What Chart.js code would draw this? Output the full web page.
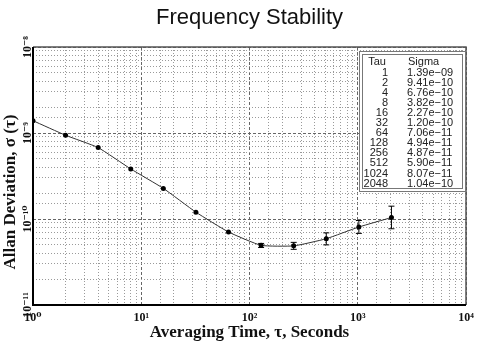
<!DOCTYPE html>
<html><head><meta charset="utf-8">
<script src="https://cdn.jsdelivr.net/npm/chart.js@4.4.1/dist/chart.umd.min.js"></script>
<style>html,body{margin:0;padding:0;background:#fff}#wrap{width:480px;height:345px;position:relative}</style>
</head><body><div id="wrap"><canvas id="c" width="480" height="345"></canvas></div>
<script>
const chartTitle = 'Frequency Stability';
const xTitle = 'Averaging Time, τ, Seconds';
const yTitle = 'Allan Deviation, σ (τ)';
const tau = [1, 2, 4, 8, 16, 32, 64, 128, 256, 512, 1024, 2048];
const sigma = [1.39e-9, 9.41e-10, 6.76e-10, 3.82e-10, 2.27e-10, 1.20e-10, 7.06e-11, 4.94e-11, 4.87e-11, 5.90e-11, 8.07e-11, 1.04e-10];
const errTau = [128, 256, 512, 1024, 2048];
const errLow = [4.66e-11, 4.44e-11, 5.0e-11, 6.8e-11, 7.7e-11];
const errHigh = [5.2e-11, 5.35e-11, 6.9e-11, 9.6e-11, 1.41e-10];
const xTickExp = [0, 1, 2, 3, 4];
const xTickLabels = ['10⁰', '10¹', '10²', '10³', '10⁴'];
const yTickExp = [-11, -10, -9, -8];
const yTickLabels = ['10⁻¹¹', '10⁻¹⁰', '10⁻⁹', '10⁻⁸'];
const tableHeader = ['Tau', 'Sigma'];

function isMajor(v) {
  if (v === undefined || v <= 0) return false;
  const e = Math.log10(v);
  return Math.abs(e - Math.round(e)) < 1e-6;
}
function fmt(v) {
  const parts = v.toExponential(2).split('e');
  const n = parseInt(parts[1], 10);
  return parts[0] + 'e' + (n < 0 ? '−' : '+') + String(Math.abs(n)).padStart(2, '0');
}

const datasets = [{
  data: tau.map((t, i) => ({x: t, y: sigma[i]})),
  borderColor: '#333', borderWidth: 1,
  pointRadius: 2.5, pointBackgroundColor: '#000', pointBorderColor: '#000', pointBorderWidth: 0,
  tension: 0.15
}];
errTau.forEach((t, i) => {
  datasets.push({
    data: [{x: t, y: errLow[i]}, {x: t, y: errHigh[i]}],
    borderColor: '#000', borderWidth: 1,
    pointStyle: 'line', pointRadius: 3, pointBorderColor: '#000', pointBorderWidth: 1
  });
});

const gridColor = ctx => isMajor(ctx.tick && ctx.tick.value) ? '#666' : '#9a9a9a';
const gridDash = ctx => isMajor(ctx.tick && ctx.tick.value) ? [3, 2] : [1, 2];
const serif = '"Liberation Serif", "DejaVu Serif", serif';

const framePlugin = {
  id: 'frameTable',
  afterDatasetsDraw(chart) {
    const {ctx, chartArea: a} = chart;
    ctx.save();
    ctx.setLineDash([]);
    ctx.strokeStyle = '#555'; ctx.lineWidth = 1.5;
    ctx.beginPath();
    ctx.moveTo(a.left, a.top); ctx.lineTo(a.right, a.top); ctx.lineTo(a.right, a.bottom);
    ctx.stroke();
    ctx.strokeStyle = '#000'; ctx.lineWidth = 2;
    ctx.beginPath();
    ctx.moveTo(a.left, a.top); ctx.lineTo(a.left, a.bottom); ctx.lineTo(a.right, a.bottom);
    ctx.stroke();

    // table box
    const bx = 359, by = 51, bw = 107, bh = 141;
    ctx.fillStyle = '#fff';
    ctx.fillRect(bx, by, bw, bh);
    ctx.strokeStyle = '#777'; ctx.lineWidth = 1;
    ctx.strokeRect(bx + 0.5, by + 0.5, bw - 1, bh - 1);
    ctx.strokeRect(bx + 3.5, by + 3.5, bw - 7, bh - 7);
    ctx.fillStyle = '#222';
    ctx.font = '11px "Liberation Sans", Arial, sans-serif';
    ctx.textBaseline = 'middle';
    ctx.textAlign = 'center';
    ctx.fillText(tableHeader[0], 377, 61.5);
    ctx.textAlign = 'left';
    ctx.fillText(tableHeader[1], 408, 61.5);
    tau.forEach((t, i) => {
      const y = 72.5 + i * 10.1;
      ctx.textAlign = 'right';
      ctx.fillText(String(t), 388, y);
      ctx.textAlign = 'left';
      ctx.fillText(fmt(sigma[i]), 407, y);
    });

    // y axis title
    ctx.translate(11, 192);
    ctx.rotate(-Math.PI / 2);
    ctx.font = 'bold 17px ' + serif;
    ctx.fillStyle = '#111';
    ctx.textAlign = 'center';
    ctx.textBaseline = 'middle';
    ctx.fillText(yTitle, 0, 0);
    ctx.restore();
  }
};

new Chart(document.getElementById('c'), {
  type: 'line',
  data: {datasets},
  options: {
    responsive: false, animation: false, devicePixelRatio: 1,
    layout: {padding: {left: 0, right: 14, top: 0, bottom: 0}},
    plugins: {
      legend: {display: false}, tooltip: {enabled: false},
      title: {display: true, text: chartTitle, fullSize: false, color: '#111',
        font: {family: '"Liberation Sans", Arial, sans-serif', size: 22, weight: 'normal'},
        padding: {top: 5, bottom: 15.6}}
    },
    scales: {
      x: {
        type: 'logarithmic', position: 'bottom', min: 1, max: 10000,
        afterFit(s) { s.height = 40; },
        grid: {color: gridColor, lineWidth: 1, drawTicks: false},
        border: {display: false, dash: gridDash},
        ticks: {
          autoSkip: false, maxRotation: 0, minRotation: 0, padding: 6, color: '#111',
          font: {family: serif, size: 12, weight: 'bold'},
          callback(v) { if (!isMajor(v)) return ''; const k = xTickExp.indexOf(Math.round(Math.log10(v))); return k >= 0 ? xTickLabels[k] : ''; }
        },
        title: {display: true, text: xTitle, color: '#111',
          font: {family: serif, size: 17, weight: 'bold'},
          padding: {top: 0, bottom: 2}}
      },
      y: {
        type: 'logarithmic', position: 'left', min: 1e-11, max: 1e-8,
        afterFit(s) { s.width = 33; },
        grid: {color: gridColor, lineWidth: 1, drawTicks: false},
        border: {display: false, dash: gridDash},
        ticks: {
          autoSkip: false, minRotation: 90, maxRotation: 90, crossAlign: 'center', padding: -8, color: '#111',
          font: {family: serif, size: 12, weight: 'bold'},
          callback(v) { if (!isMajor(v)) return ''; const k = yTickExp.indexOf(Math.round(Math.log10(v))); return k >= 0 ? yTickLabels[k] : ''; }
        },
        title: {display: false}
      }
    }
  },
  plugins: [framePlugin]
});
</script></body></html>
